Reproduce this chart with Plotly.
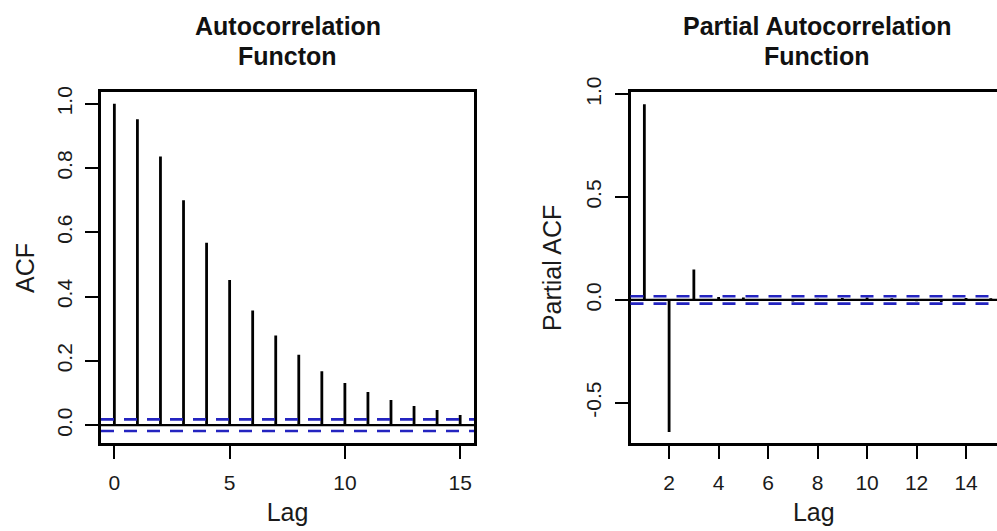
import plotly.graph_objects as go

# ---- data ----
acf_lags = list(range(0, 16))
acf_vals = [1.0, 0.952, 0.836, 0.700, 0.568, 0.452, 0.357, 0.279, 0.219,
            0.168, 0.131, 0.103, 0.078, 0.060, 0.047, 0.032]
acf_clim = 0.018

pacf_lags = list(range(1, 16))
pacf_vals = [0.952, -0.642, 0.148, 0.015, 0.012, -0.005, -0.008, 0.006,
             0.010, 0.012, 0.008, -0.006, -0.010, 0.010, 0.008]
pacf_clim = 0.018

acf_xticks = [0, 5, 10, 15]
acf_yticks = [0.0, 0.2, 0.4, 0.6, 0.8, 1.0]
pacf_xticks = [2, 4, 6, 8, 10, 12, 14]
pacf_yticks = [-0.5, 0.0, 0.5, 1.0]

title_lines = [["Autocorrelation", "Functon"],
               ["Partial Autocorrelation", "Function"]]

FONT = "Liberation Sans"
BLUE = "#2424c0"
TXT = "#1a1a1a"


def stems(lags, vals):
    xs, ys = [], []
    for l, v in zip(lags, vals):
        xs += [l, l, None]
        ys += [0, v, None]
    return xs, ys


fig = go.Figure()

x1, y1 = stems(acf_lags, acf_vals)
fig.add_trace(go.Scatter(x=x1, y=y1, mode="lines", xaxis="x", yaxis="y",
                         line=dict(color="black", width=2.8), showlegend=False,
                         hoverinfo="skip"))
x2, y2 = stems(pacf_lags, pacf_vals)
fig.add_trace(go.Scatter(x=x2, y=y2, mode="lines", xaxis="x2", yaxis="y2",
                         line=dict(color="black", width=2.8), showlegend=False,
                         hoverinfo="skip"))

shapes = []
for xr, yr, c in [("x", "y", acf_clim), ("x2", "y2", pacf_clim)]:
    shapes.append(dict(type="line", xref=xr + " domain", yref=yr, x0=0, x1=1,
                       y0=0, y1=0, line=dict(color="black", width=2.2)))
    for s in (c, -c):
        shapes.append(dict(type="line", xref=xr + " domain", yref=yr, x0=0, x1=1,
                           y0=s, y1=s,
                           line=dict(color=BLUE, width=2.6, dash="13px,10px")))

axis_common = dict(showgrid=False, zeroline=False, showline=True,
                   linecolor="black", linewidth=3, ticks="outside",
                   ticklen=13, tickwidth=2, tickcolor="black", automargin=False,
                   ticklabelstandoff=5,
                   tickfont=dict(family=FONT, size=21, color=TXT))

title_font = dict(family=FONT, size=25, color=TXT)
yd = [0.1648, 0.8262]

annotations = []
for cx, lines in zip([287.5, 817], title_lines):
    for cy, line in zip([26, 56], lines):
        annotations.append(dict(text=f"<b>{line}</b>", x=cx / 997, y=1 - cy / 531,
                                xref="paper", yref="paper", showarrow=False,
                                xanchor="center", yanchor="middle",
                                font=dict(family=FONT, size=25, color="#111")))

fig.update_layout(
    width=997, height=531,
    margin=dict(l=0, r=0, t=0, b=0),
    paper_bgcolor="white", plot_bgcolor="white",
    shapes=shapes,
    xaxis=dict(domain=[0.1013, 0.4754], range=[-0.58, 15.6], mirror=True,
               tickvals=acf_xticks, anchor="y",
               title=dict(text="Lag", font=title_font, standoff=11),
               **axis_common),
    yaxis=dict(domain=yd, range=[-0.057, 1.036], mirror=True,
               tickvals=acf_yticks, ticktext=[f"{v:.1f}" for v in acf_yticks],
               tickangle=-90, anchor="x",
               title=dict(text="ACF", font=title_font, standoff=11),
               **axis_common),
    xaxis2=dict(domain=[0.6324, 1.0], range=[0.44, 15.25], mirror=True,
                tickvals=pacf_xticks, anchor="y2",
                title=dict(text="Lag", font=title_font, standoff=11),
                **axis_common),
    yaxis2=dict(domain=yd, range=[-0.698, 1.01], mirror=False,
                tickvals=pacf_yticks, ticktext=[f"{v:.1f}" for v in pacf_yticks],
                tickangle=-90, anchor="x2",
                title=dict(text="Partial ACF", font=title_font, standoff=14),
                **axis_common),
    annotations=annotations,
)

fig.write_html("out.html",
               config={"displayModeBar": False},
               post_script="document.body.style.margin='0';"
                           "document.body.style.overflow='hidden';")
